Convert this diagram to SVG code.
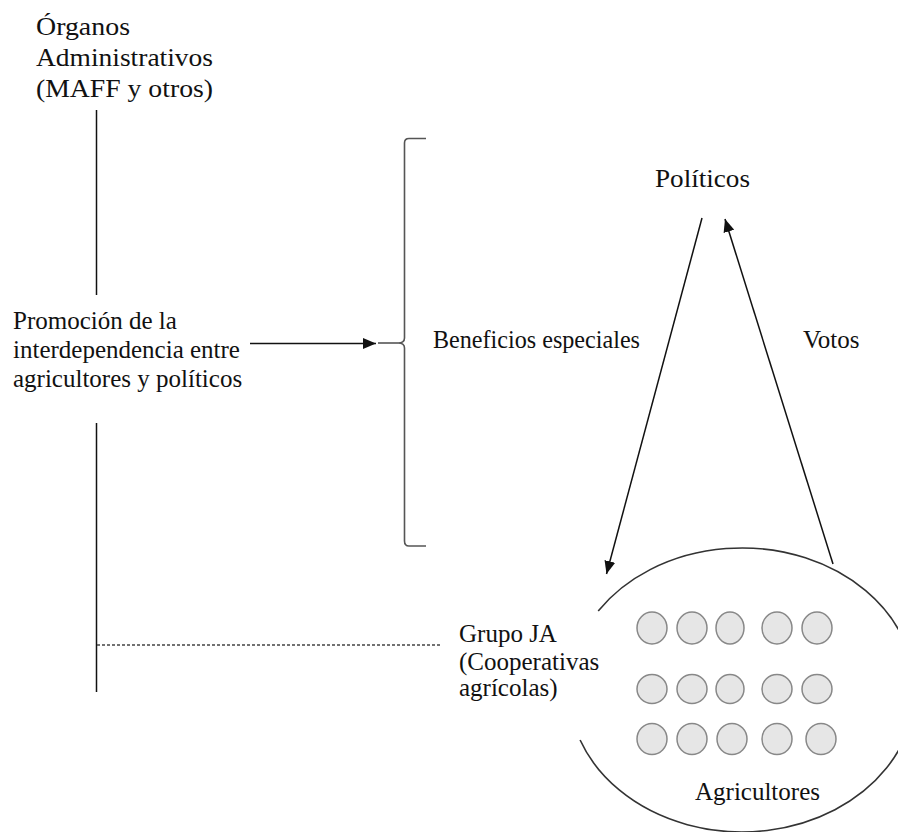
<svg xmlns="http://www.w3.org/2000/svg" width="898" height="832" viewBox="0 0 898 832">
  <style>
    .t { font-family: "Liberation Serif", "Times New Roman", serif; font-size: 25px; fill: #111; }
    .line { stroke: #111; stroke-width: 1.5; fill: none; }
    .dash { stroke: #444; stroke-width: 1.3; stroke-dasharray: 3 2; fill: none; }
    .brace { stroke: #555; stroke-width: 1.6; fill: none; }
    .farmer { fill: #e6e6e6; stroke: #888; stroke-width: 1.5; }
    .group { stroke: #333; stroke-width: 1.6; fill: none; }
  </style>
  <defs>
    <marker id="arrow" markerUnits="userSpaceOnUse" markerWidth="13" markerHeight="11" refX="13" refY="5.5" orient="auto">
      <path d="M0,0 L13,5.5 L0,11 z" fill="#111"/>
    </marker>
  </defs>
  <rect width="898" height="832" fill="#fff"/>

  <!-- administrative bodies -->
  <g id="organos">
    <text class="t" x="36" y="35" textLength="94" lengthAdjust="spacingAndGlyphs">Órganos</text>
    <text class="t" x="36" y="66" textLength="177" lengthAdjust="spacingAndGlyphs">Administrativos</text>
    <text class="t" x="36" y="97" textLength="177" lengthAdjust="spacingAndGlyphs">(MAFF y otros)</text>
  </g>

  <!-- promotion of interdependence -->
  <g id="promocion">
    <text class="t" x="13" y="329">Promoción de la</text>
    <text class="t" x="13" y="358">interdependencia entre</text>
    <text class="t" x="13" y="387">agricultores y políticos</text>
  </g>

  <!-- special benefits bracket -->
  <g id="beneficios">
    <path class="brace" d="M426,138.5 H409 Q404.5,138.5 404.5,143 V338 Q404.5,343 398,343 Q404.5,343 404.5,348 V541 Q404.5,546 409,546 H426"/>
    <text class="t" x="433" y="348" textLength="207" lengthAdjust="spacingAndGlyphs">Beneficios especiales</text>
  </g>

  <!-- politicians -->
  <g id="politicos">
    <text class="t" x="655" y="187" textLength="95" lengthAdjust="spacingAndGlyphs">Políticos</text>
  </g>

  <g id="votos">
    <text class="t" x="803" y="348">Votos</text>
  </g>

  <!-- JA group -->
  <g id="grupo-ja">
    <text class="t" x="459" y="642">Grupo JA</text>
    <text class="t" x="459" y="670">(Cooperativas</text>
    <text class="t" x="459" y="696">agrícolas)</text>
  </g>

  <!-- farmers -->
  <g id="agricultores">
    <path class="group" d="M598.2,611 A173,142 0 1,1 580.1,740"/>
    <ellipse class="farmer" cx="652" cy="628" rx="15" ry="16"/>
    <ellipse class="farmer" cx="692" cy="628" rx="15" ry="16"/>
    <ellipse class="farmer" cx="730" cy="628" rx="14" ry="16"/>
    <ellipse class="farmer" cx="777" cy="628" rx="15" ry="16"/>
    <ellipse class="farmer" cx="817" cy="628" rx="15" ry="16"/>
    <ellipse class="farmer" cx="652" cy="689" rx="15" ry="14.5"/>
    <ellipse class="farmer" cx="692" cy="689" rx="15" ry="14.5"/>
    <ellipse class="farmer" cx="730" cy="689" rx="14" ry="14.5"/>
    <ellipse class="farmer" cx="777" cy="689" rx="15" ry="14.5"/>
    <ellipse class="farmer" cx="817" cy="689" rx="15" ry="14.5"/>
    <ellipse class="farmer" cx="652" cy="739" rx="15" ry="15.5"/>
    <ellipse class="farmer" cx="692" cy="739" rx="15" ry="15.5"/>
    <ellipse class="farmer" cx="732" cy="739" rx="15" ry="15.5"/>
    <ellipse class="farmer" cx="777" cy="739" rx="15" ry="15.5"/>
    <ellipse class="farmer" cx="821" cy="739" rx="15" ry="15.5"/>
    <text class="t" x="695" y="800">Agricultores</text>
  </g>

  <!-- connectors -->
  <g id="connectors">
    <line class="line" x1="96.5" y1="110" x2="96.5" y2="295"/>
    <line class="line" x1="96.5" y1="423" x2="96.5" y2="692"/>
    <line class="dash" x1="97" y1="645" x2="440" y2="645"/>
    <line class="line" x1="250" y1="343.5" x2="376" y2="343.5" marker-end="url(#arrow)"/>
    <line class="brace" x1="378" y1="343" x2="398" y2="343"/>
    <line class="line" x1="702" y1="218" x2="606.5" y2="574" marker-end="url(#arrow)"/>
    <line class="line" x1="833" y1="564" x2="725" y2="219" marker-end="url(#arrow)"/>
  </g>
</svg>
